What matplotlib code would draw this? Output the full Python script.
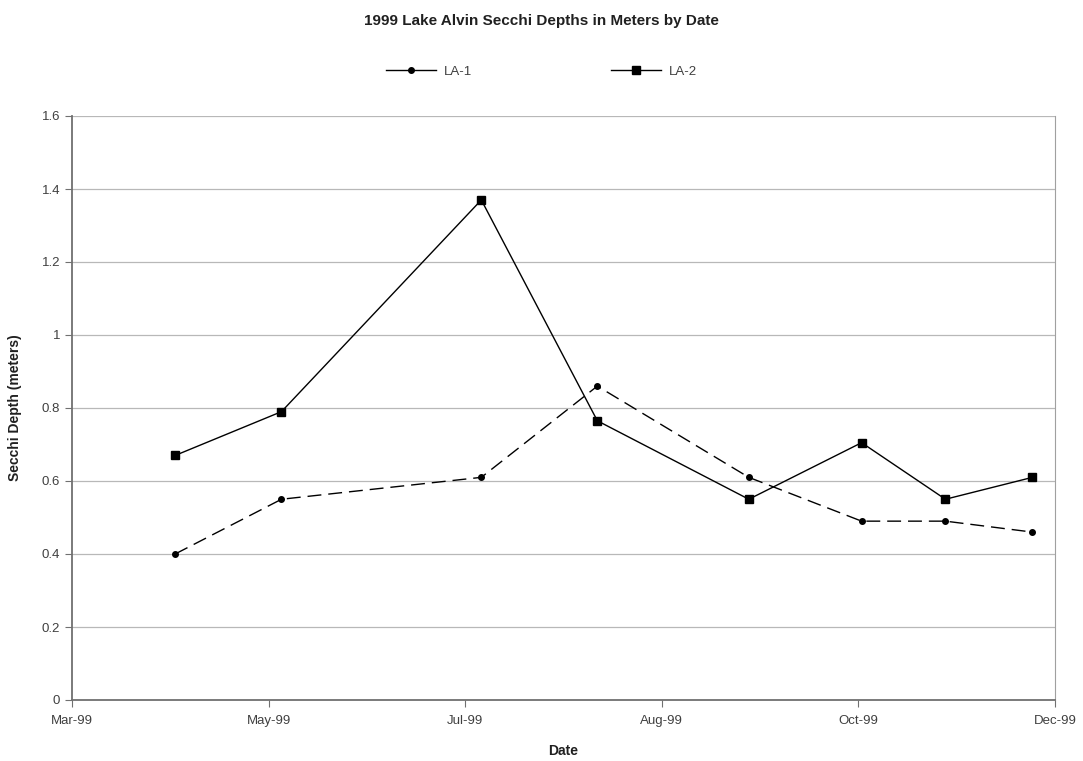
import datetime as dt
import matplotlib
matplotlib.use("Agg")
import matplotlib.pyplot as plt
import matplotlib.dates as mdates
from matplotlib.lines import Line2D

plt.rcParams['font.family'] = ['Liberation Sans', 'DejaVu Sans']

# Sampling dates (1999) and Secchi depths in meters
sample_dates = [dt.date(1999, 4, 2), dt.date(1999, 5, 5), dt.date(1999, 7, 6),
                dt.date(1999, 8, 11), dt.date(1999, 9, 27), dt.date(1999, 11, 1),
                dt.date(1999, 11, 27), dt.date(1999, 12, 24)]
la1_depth = [0.40, 0.55, 0.61, 0.86, 0.61, 0.49, 0.49, 0.46]
la2_depth = [0.67, 0.79, 1.37, 0.765, 0.55, 0.705, 0.55, 0.61]

tick_dates = [dt.date(1999, 3, 1), dt.date(1999, 5, 1), dt.date(1999, 7, 1),
              dt.date(1999, 8, 31), dt.date(1999, 10, 31), dt.date(1999, 12, 31)]
y_ticks = [0, 0.2, 0.4, 0.6, 0.8, 1, 1.2, 1.4, 1.6]
y_tick_labels = ['0', '0.2', '0.4', '0.6', '0.8', '1', '1.2', '1.4', '1.6']

fig = plt.figure(figsize=(10.83, 7.61), dpi=100)
ax = fig.add_axes([72 / 1083, 1 - 700 / 761, (1055 - 72) / 1083, (700 - 116) / 761])

ax.plot(sample_dates, la1_depth, color='black', lw=1.0, linestyle=(0, (10, 5)),
        marker='o', markersize=4, zorder=3)
ax.plot(sample_dates, la2_depth, color='black', lw=1.0, linestyle='-',
        marker='s', markersize=5.5, zorder=3)

ax.set_xlim(tick_dates[0], tick_dates[-1])
ax.set_ylim(0, 1.6)
ax.set_xticks(tick_dates)
ax.xaxis.set_major_formatter(mdates.DateFormatter('%b-%y'))
ax.set_yticks(y_ticks)
ax.set_yticklabels(y_tick_labels)

ax.grid(axis='y', color='#b8b8b8', lw=0.9)
ax.set_axisbelow(True)
ax.spines['top'].set_visible(False)
ax.spines['right'].set_color('#a0a0a0')
ax.spines['left'].set_color('#707070')
ax.spines['bottom'].set_color('#707070')
ax.spines['left'].set_linewidth(1.3)
ax.spines['bottom'].set_linewidth(1.3)

ax.tick_params(axis='both', direction='out', length=5, color='#707070',
               labelsize=9.5, labelcolor='#404040')
ax.tick_params(axis='x', pad=6)

ax.set_xlabel('Date', fontsize=10, fontweight='bold', color='#202020', labelpad=12)
ax.set_ylabel('Secchi Depth (meters)', fontsize=10, fontweight='bold', color='#202020', labelpad=14)

fig.text(0.5, 1 - 21 / 761, '1999 Lake Alvin Secchi Depths in Meters by Date',
         ha='center', va='center', fontsize=11, fontweight='bold', color='#202020')

handles = [Line2D([], [], color='black', lw=1.0, marker='o', markersize=4),
           Line2D([], [], color='black', lw=1.0, marker='s', markersize=5.5)]
fig.legend(handles, ['LA-1', 'LA-2'], loc='center', bbox_to_anchor=(0.5, 1 - 72 / 761),
           ncol=2, frameon=False, fontsize=9.5, columnspacing=10.5, handlelength=3.8,
           handletextpad=0.6, labelcolor='#404040')

fig.savefig('out.png', dpi=100)
